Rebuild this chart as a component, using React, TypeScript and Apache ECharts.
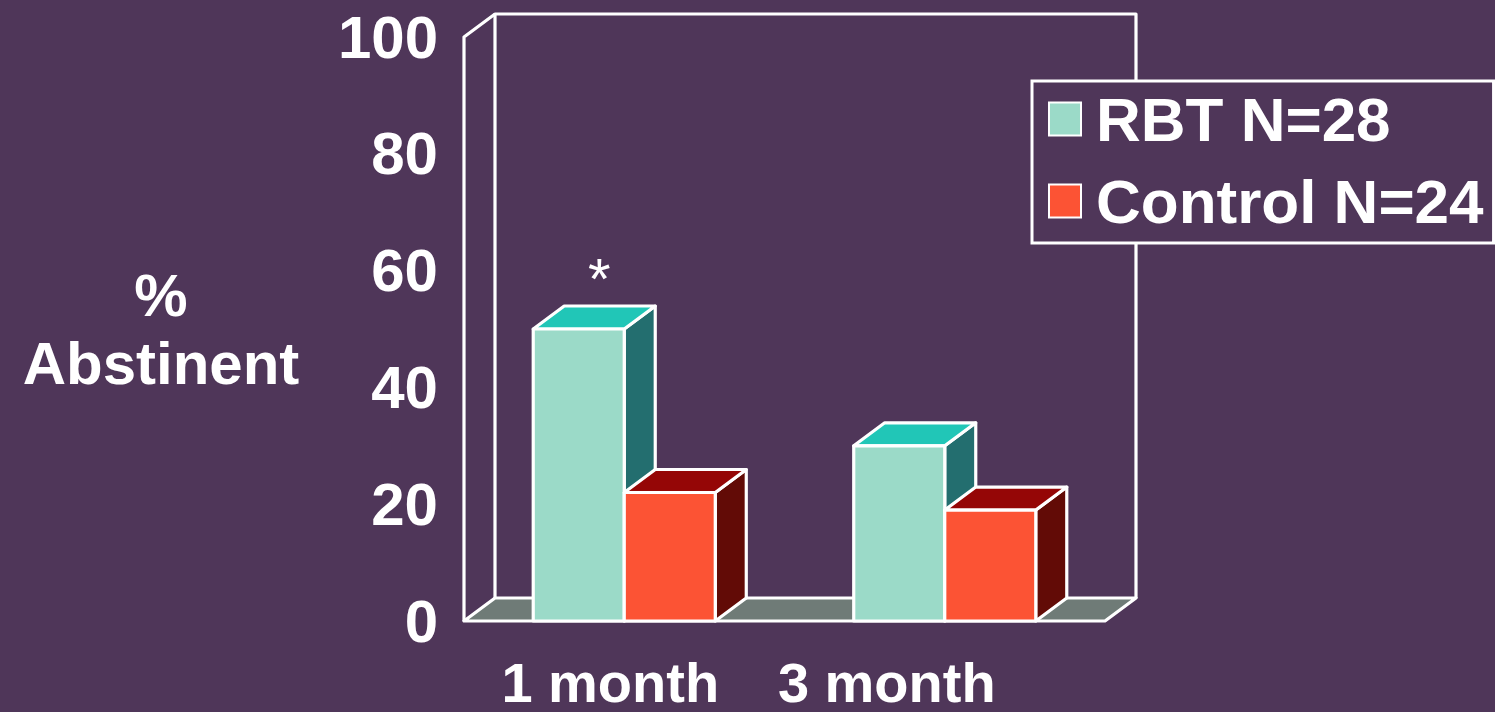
import React, { useEffect, useRef } from "react";
import * as echarts from "echarts";

const categories = ["1 month", "3 month"];
const seriesNames = ["RBT N=28", "Control N=24"];
const rbtValues = [50, 30];
const controlValues = [22, 19];
const rbtNotes = ["*", ""];
const yMin = 0;
const yMax = 100;
const yInterval = 20;
const yTitle = "%\nAbstinent";

const BG = "#4F3659";
const FONT = "'Liberation Sans', Arial, sans-serif";
const DX = 31;
const DY = -23;
const BAR_FRAC = 0.284;
const STROKE = { stroke: "#FFFFFF", lineWidth: 3.2, lineJoin: "round" as const };

const palettes = [
  { front: "#9BDAC8", top: "#21C6B7", side: "#236E6F" },
  { front: "#FC5334", top: "#950606", side: "#620B06" },
];

function makeBarRender(seriesIdx: number, notes: string[] | null) {
  const pal = palettes[seriesIdx];
  return (params: any, api: any) => {
    const cat = api.value(0);
    const val = api.value(1);
    const base = api.coord([cat, 0]);
    const top = api.coord([cat, val]);
    const catW = api.size([1, 0])[0];
    const barW = catW * BAR_FRAC;
    const x0 = base[0] - barW + seriesIdx * barW;
    const x1 = x0 + barW;
    const ty = top[1];
    const by = base[1];
    const children: any[] = [
      {
        type: "polygon",
        shape: { points: [[x1, ty], [x1, by], [x1 + DX, by + DY], [x1 + DX, ty + DY]] },
        style: { fill: pal.side, ...STROKE },
      },
      {
        type: "polygon",
        shape: { points: [[x0, ty], [x1, ty], [x1 + DX, ty + DY], [x0 + DX, ty + DY]] },
        style: { fill: pal.top, ...STROKE },
      },
      {
        type: "rect",
        shape: { x: x0, y: ty, width: barW, height: by - ty },
        style: { fill: pal.front, ...STROKE },
      },
    ];
    const note = notes ? notes[params.dataIndex] : "";
    if (note) {
      children.push({
        type: "text",
        style: {
          text: note,
          x: x0 + barW / 2 + DX / 2 + 5,
          y: ty + DY - 28,
          fill: "#FFFFFF",
          font: `58px ${FONT}`,
          align: "center",
          verticalAlign: "middle",
        },
      });
    }
    return { type: "group", children };
  };
}

function frameRender(params: any) {
  const { x, y, width: w, height: h } = params.coordSys;
  return {
    type: "group",
    silent: true,
    children: [
      {
        type: "polyline",
        shape: { points: [[x + DX, y + h + DY], [x + DX, y + DY], [x + w + DX, y + DY], [x + w + DX, y + h + DY]] },
        style: { fill: "none", ...STROKE },
      },
      {
        type: "polygon",
        shape: { points: [[x, y + h], [x + w, y + h], [x + w + DX, y + h + DY], [x + DX, y + h + DY]] },
        style: { fill: "#6F7B77", ...STROKE },
      },
      {
        type: "polyline",
        shape: { points: [[x, y + h], [x, y], [x + DX, y + DY]] },
        style: { fill: "none", ...STROKE },
      },
    ],
  };
}

export default function App() {
  const ref = useRef<HTMLDivElement>(null);
  useEffect(() => {
    if (!ref.current) return;
    const chart = echarts.init(ref.current, undefined, { renderer: "svg" });
    const labelShifts = [28, 116];
    chart.setOption({
      animation: false,
      backgroundColor: BG,
      grid: { left: 464, right: 390, top: 37, bottom: 91, containLabel: false },
      legend: {
        data: seriesNames,
        orient: "vertical",
        left: 1032,
        top: 81,
        selectedMode: false,
        backgroundColor: BG,
        borderColor: "#FFFFFF",
        borderWidth: 3,
        borderRadius: 0,
        padding: [7, 10, 11, 16],
        itemGap: 20,
        itemWidth: 32,
        itemHeight: 33,
        itemStyle: { borderColor: "#FFFFFF", borderWidth: 2 },
        icon: "rect",
        textStyle: { color: "#FFFFFF", fontSize: 62, fontWeight: "bold", fontFamily: FONT, padding: [0, 0, 0, 10] },
      },
      xAxis: {
        type: "category",
        data: categories.map((c, i) => ({ value: c, textStyle: { padding: [0, labelShifts[i], 0, 0] } })),
        axisLine: { show: false },
        axisTick: { show: false },
        splitLine: { show: false },
        axisLabel: { color: "#FFFFFF", fontSize: 56, fontWeight: "bold", fontFamily: FONT, margin: 37, lineHeight: 48 },
      },
      yAxis: {
        type: "value",
        min: yMin,
        max: yMax,
        interval: yInterval,
        name: yTitle,
        nameLocation: "middle",
        nameRotate: 0,
        nameGap: 303,
        nameTextStyle: {
          color: "#FFFFFF",
          fontSize: 60,
          fontWeight: "bold",
          fontFamily: FONT,
          align: "center",
          lineHeight: 68,
          padding: [0, 0, 18, 0],
        },
        axisLine: { show: false },
        axisTick: { show: false },
        splitLine: { show: false },
        axisLabel: { color: "#FFFFFF", fontSize: 60, fontWeight: "bold", fontFamily: FONT, margin: 26 },
      },
      series: [
        {
          type: "custom",
          name: "frame",
          renderItem: frameRender,
          data: [[0, 0]],
          silent: true,
          z: 1,
        },
        {
          type: "custom",
          name: seriesNames[0],
          renderItem: makeBarRender(0, rbtNotes),
          itemStyle: { color: palettes[0].front },
          encode: { x: 0, y: 1 },
          data: rbtValues.map((v, i) => [i, v]),
          z: 2,
        },
        {
          type: "custom",
          name: seriesNames[1],
          renderItem: makeBarRender(1, null),
          itemStyle: { color: palettes[1].front },
          encode: { x: 0, y: 1 },
          data: controlValues.map((v, i) => [i, v]),
          z: 3,
        },
      ],
    });
    return () => chart.dispose();
  }, []);
  return (
    <div
      ref={ref}
      style={{ position: "fixed", left: 0, top: 0, width: 1495, height: 712 }}
    />
  );
}
